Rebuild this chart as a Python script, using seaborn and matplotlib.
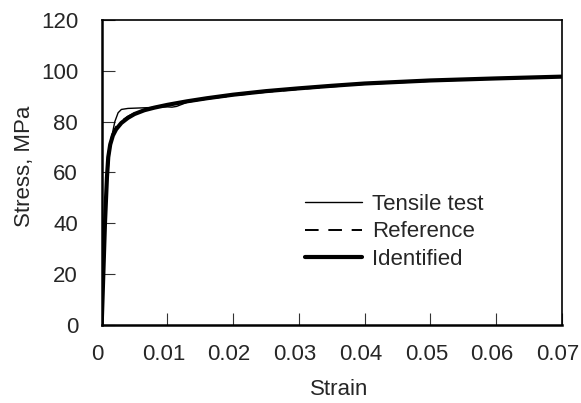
import numpy as np
import pandas as pd
import matplotlib
matplotlib.use("Agg")
import matplotlib.pyplot as plt
import matplotlib.transforms as mtransforms
import seaborn as sns

# Data
tensile_strain = [0, 0.0004, 0.0008, 0.0012, 0.0016, 0.002, 0.0025, 0.003, 0.004, 0.006, 0.008,
                  0.0100, 0.0107, 0.0114, 0.013, 0.015, 0.02, 0.025, 0.03, 0.04, 0.05, 0.06, 0.07]
tensile_stress = [0, 30, 55, 68, 75, 80, 83.5, 84.8, 85.2, 85.4, 85.6,
                  85.8, 85.7, 86.0, 87.6, 88.5, 90.3, 91.8, 92.9, 94.9, 96.1, 97.0, 97.6]

reference_strain = [0, 0.0005, 0.0008, 0.001, 0.0013, 0.0017, 0.0022, 0.003, 0.004, 0.005, 0.0065,
                    0.008, 0.01, 0.013, 0.016, 0.02, 0.025, 0.03, 0.035, 0.04, 0.05, 0.06, 0.07]
reference_stress = [0, 42, 60, 67, 72, 75.5, 78, 80.2, 82, 83.3, 84.7,
                    85.7, 86.6, 87.9, 89.0, 90.3, 91.7, 92.8, 93.8, 94.8, 96.0, 96.9, 97.6]

identified_strain = [0, 0.0005, 0.0008, 0.001, 0.0013, 0.0017, 0.0022, 0.003, 0.004, 0.005, 0.0065,
                     0.008, 0.01, 0.013, 0.016, 0.02, 0.025, 0.03, 0.035, 0.04, 0.05, 0.06, 0.07]
identified_stress = [0, 40, 58, 66, 71, 74.5, 77, 79.5, 81.5, 83, 84.5,
                     85.5, 86.6, 88, 89.2, 90.6, 92.0, 93.1, 94.1, 95.0, 96.2, 97.0, 97.7]

x_ticks = [0, 0.01, 0.02, 0.03, 0.04, 0.05, 0.06, 0.07]
x_tick_labels = ["0", "0.01", "0.02", "0.03", "0.04", "0.05", "0.06", "0.07"]
y_ticks = [0, 20, 40, 60, 80, 100, 120]

series_names = ["Tensile test", "Reference", "Identified"]

frames = []
for name, xs, ys in zip(series_names,
                        [tensile_strain, reference_strain, identified_strain],
                        [tensile_stress, reference_stress, identified_stress]):
    frames.append(pd.DataFrame({"Strain": xs, "Stress": ys, "Series": name}))
df = pd.concat(frames, ignore_index=True)

sns.set_style("ticks")
plt.rcParams["font.family"] = ["Liberation Sans", "DejaVu Sans"]

fig = plt.figure(figsize=(5.81, 4.03), dpi=100)
ax = fig.add_axes([0.175, 0.1935, 0.792, 0.757])

styles = {
    "Tensile test": dict(lw=1.0, ls="-"),
    "Reference": dict(lw=1.4, ls=(0, (7, 5))),
    "Identified": dict(lw=3.0, ls="-"),
}
for name in series_names:
    sub = df[df["Series"] == name]
    sns.lineplot(data=sub, x="Strain", y="Stress", ax=ax, sort=False, estimator=None,
                 color="black", linewidth=styles[name]["lw"], linestyle=styles[name]["ls"],
                 label=name)

ax.set_xlim(0, 0.07)
ax.set_ylim(0, 120)
ax.set_xticks(x_ticks)
ax.set_xticklabels(x_tick_labels)
ax.set_yticks(y_ticks)
ax.tick_params(direction="in", length=9, width=0.8, labelsize=16, color="#333333")
ax.tick_params(axis="x", pad=14)
ax.tick_params(axis="y", pad=17)
shift = mtransforms.ScaledTranslation(-4 / 100, 0, fig.dpi_scale_trans)
for lab in ax.get_xticklabels():
    lab.set_transform(lab.get_transform() + shift)
for s in ax.spines.values():
    s.set_visible(True)
    s.set_linewidth(1.2)
    s.set_color("black")
ax.spines["left"].set_linewidth(1.8)
ax.spines["bottom"].set_linewidth(1.8)
ax.set_xlabel("Strain", fontsize=16, labelpad=10)
ax.set_ylabel("Stress, MPa", fontsize=16, labelpad=4)
ax.xaxis.label.set_x(0.516)
ax.yaxis.label.set_y(0.521)

leg = ax.legend(loc="center left", bbox_to_anchor=(0.442, 0.305), frameon=False,
                fontsize=16, handlelength=2.56, handletextpad=0.45, labelspacing=0.28,
                borderpad=0, borderaxespad=0)

fig.savefig("out.png", dpi=100)
